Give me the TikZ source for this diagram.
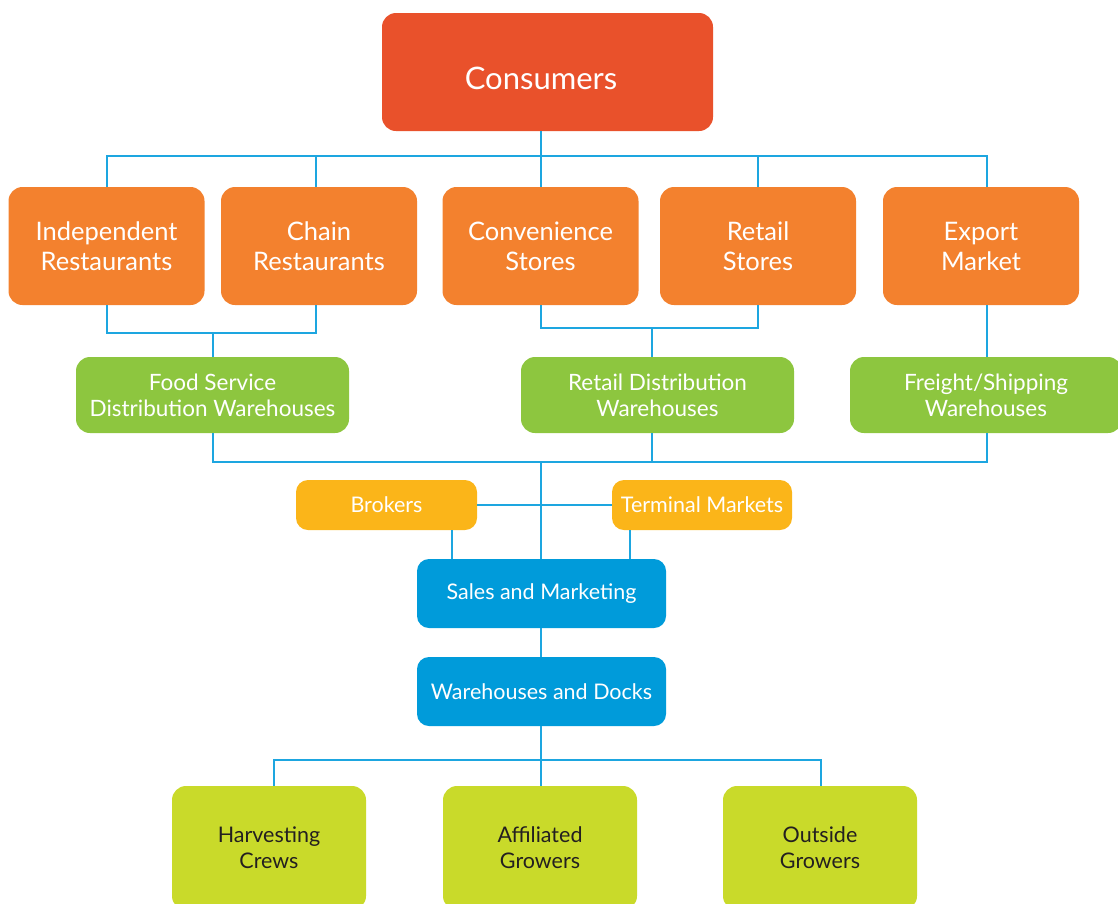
\documentclass[tikz,border=0pt]{standalone}
\usepackage{fontspec}
\setmainfont{Lato}
\definecolor{consred}{HTML}{E9512B}
\definecolor{orng}{HTML}{F3812E}
\definecolor{grn}{HTML}{8DC63F}
\definecolor{yel}{HTML}{FBB519}
\definecolor{blu}{HTML}{009BDA}
\definecolor{lime}{HTML}{C9DA2A}
\definecolor{linec}{HTML}{1DA6E0}
\definecolor{darktxt}{HTML}{231F20}
\tikzset{
  basebox/.style={rounded corners=14pt, inner sep=0pt, align=center, text=white},
  consbox/.style={basebox, fill=consred, minimum width=331pt, minimum height=118pt, font=\fontsize{31}{36}\selectfont},
  outbox/.style={basebox, fill=orng, minimum width=196pt, minimum height=118pt, font=\fontsize{25.5}{30}\selectfont},
  whbox/.style={basebox, fill=grn, minimum width=273pt, minimum height=76pt, font=\fontsize{22.5}{26}\selectfont},
  midbox/.style={basebox, fill=yel, minimum width=181pt, minimum height=50pt, rounded corners=12pt, font=\fontsize{21.5}{24}\selectfont},
  opbox/.style={basebox, fill=blu, minimum width=249pt, minimum height=69pt, rounded corners=12pt, font=\fontsize{21.5}{24}\selectfont},
  srcbox/.style={basebox, fill=lime, minimum width=194pt, minimum height=124pt, text=darktxt, font=\fontsize{21.5}{26}\selectfont},
  conn/.style={draw=linec, line width=1.6pt}
}
\begin{document}
\begin{tikzpicture}[x=1pt,y=-1pt]
\useasboundingbox (0,0) rectangle (1118,903);
\clip (0,0) rectangle (1118,903);
% nodes
\node[consbox] (cons) at (547.5,72) {\raisebox{0pt}[\dimexpr\height+12pt\relax][\depth]{Consumers}\kern13pt};
\node[outbox] (ind) at (106.5,246) {Independent\\Restaurants};
\node[outbox] (chain) at (319,246) {Chain\\Restaurants};
\node[outbox] (conv) at (540.5,246) {Convenience\\Stores};
\node[outbox] (retail) at (758,246) {Retail\\Stores};
\node[outbox] (export) at (981,246) {Export\\Market};
\node[whbox] (food) at (212.5,395) {Food Service\\Distribution Warehouses};
\node[whbox] (rdist) at (657.5,395) {Retail Distribution\\Warehouses};
\node[whbox, minimum width=272pt] (freight) at (986,395) {Freight/Shipping\\Warehouses};
\node[midbox] (brokers) at (386.5,505) {Brokers};
\node[midbox, minimum width=180pt] (term) at (702,505) {Terminal Markets};
\node[opbox] (sales) at (541.5,593.5) {Sales and Marketing};
\node[opbox] (wh) at (541.5,691.5) {Warehouses and Docks};
\node[srcbox] (harv) at (269,848) {Harvesting\\Crews};
\node[srcbox] (aff) at (540,848) {Affiliated\\Growers};
\node[srcbox] (outg) at (820,848) {Outside\\Growers};
% bus coordinates
\coordinate (t1) at (107,156);
\coordinate (t2) at (316,156);
\coordinate (tc) at (541,156);
\coordinate (t4) at (758,156);
\coordinate (t5) at (987,156);
\coordinate (r1) at (107,333);
\coordinate (r2) at (316,333);
\coordinate (rf) at (213,333);
\coordinate (s1) at (541,328);
\coordinate (s2) at (758,328);
\coordinate (sr) at (652,328);
\coordinate (g1) at (213,462);
\coordinate (gc) at (541,462);
\coordinate (g2) at (652,462);
\coordinate (g3) at (987,462);
\coordinate (bx) at (452,559);
\coordinate (tx) at (630,559);
\coordinate (f1) at (274,760);
\coordinate (fc) at (541,760);
\coordinate (f3) at (821,760);
% connectors
\draw[conn] (cons.south -| tc) -- (tc |- conv.north);
\draw[conn] (t1 |- ind.north) -- (t1) -- (t5) -- (t5 |- export.north);
\draw[conn] (t2) -- (t2 |- chain.north);
\draw[conn] (t4) -- (t4 |- retail.north);
\draw[conn] (r1 |- ind.south) -- (r1) -- (r2) -- (r2 |- chain.south);
\draw[conn] (rf) -- (rf |- food.north);
\draw[conn] (s1 |- conv.south) -- (s1) -- (s2) -- (s2 |- retail.south);
\draw[conn] (sr) -- (sr |- rdist.north);
\draw[conn] (t5 |- export.south) -- (t5 |- freight.north);
\draw[conn] (g1 |- food.south) -- (g1) -- (g3) -- (g3 |- freight.south);
\draw[conn] (g2 |- rdist.south) -- (g2);
\draw[conn] (gc) -- (gc |- sales.north);
\draw[conn] (brokers.east) -- (term.west);
\draw[conn] (bx |- brokers.south) -- (bx |- sales.north);
\draw[conn] (tx |- term.south) -- (tx |- sales.north);
\draw[conn] (sales.south -| gc) -- (wh.north -| gc);
\draw[conn] (wh.south -| fc) -- (fc |- aff.north);
\draw[conn] (f1 |- harv.north) -- (f1) -- (f3) -- (f3 |- outg.north);
\end{tikzpicture}
\end{document}
